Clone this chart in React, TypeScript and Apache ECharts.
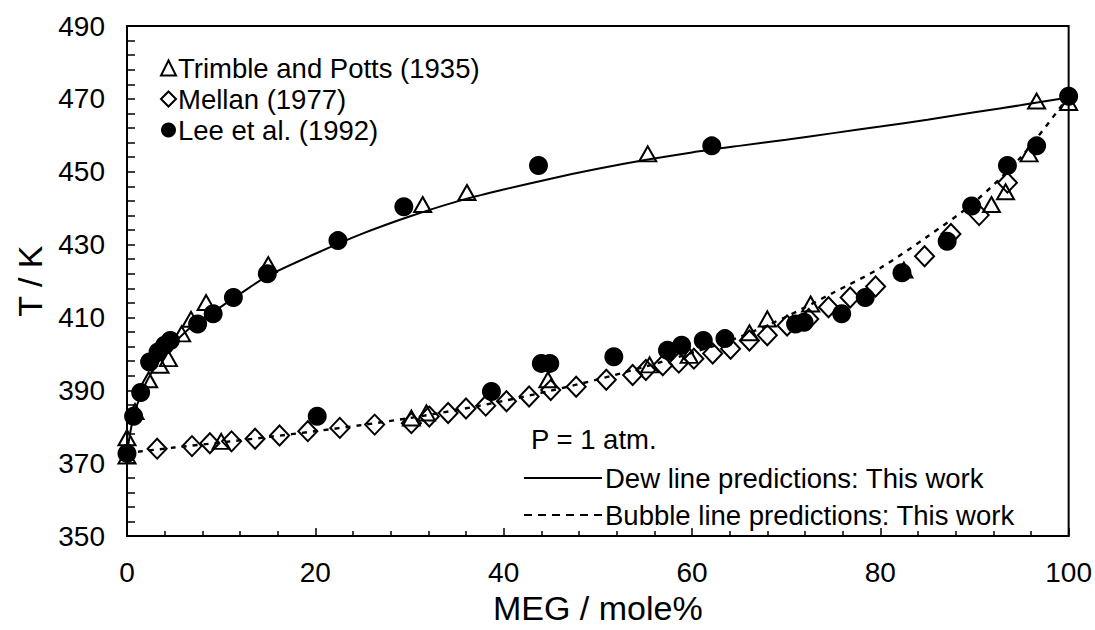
import React, { useEffect, useRef } from "react";
import * as echarts from "echarts";

// Trimble and Potts (1935)
const trimbleX = [0, 0, 0.85, 2.3, 3.5, 4.4, 5.8, 6.8, 8.4, 15, 31.4, 36.1, 55.3, 96.6, 100, 10, 30.2, 31.8, 44.7, 55.5, 59.7, 66.1, 68, 72.6, 82.5, 91.8, 93.3, 95.8];
const trimbleT = [372, 377, 384.2, 392.9, 396.9, 398.7, 405.5, 409.5, 414.1, 424.5, 441, 444.3, 454.9, 469.4, 469, 376, 382.4, 383.8, 392.9, 397, 399.6, 405.8, 409.6, 413.7, 423, 441, 444.5, 454.9];

// Mellan (1977)
const mellanX = [3.2, 6.9, 8.8, 11.1, 13.6, 16.2, 19.2, 22.6, 26.3, 30.2, 32.1, 34.1, 36, 38.1, 40.3, 42.7, 45, 47.7, 50.9, 53.7, 55.1, 56.9, 58.6, 60.2, 62.2, 64.1, 66.1, 68, 70.1, 72.4, 74.5, 76.8, 79.5, 84.7, 87.5, 90.5, 93.5];
const mellanT = [374, 374.7, 375.5, 376, 376.7, 377.6, 378.8, 379.7, 380.6, 381, 382.8, 383.8, 385, 385.8, 387, 388.3, 390.1, 391, 392.9, 394.2, 395.6, 396.9, 397.6, 398.7, 400.1, 401.4, 403.7, 405.1, 407.8, 409.6, 412.8, 415.5, 418.5, 426.8, 432.9, 438.1, 447];

// Lee et al. (1992)
const leeX = [0, 0.7, 1.45, 2.4, 3.3, 4.0, 4.6, 7.5, 9.15, 11.3, 14.9, 22.4, 29.4, 43.7, 62.1, 100, 20.2, 38.7, 44, 44.9, 51.7, 57.4, 58.9, 61.2, 63.5, 71, 71.9, 75.9, 78.4, 82.3, 87.1, 89.7, 93.5, 96.6];
const leeT = [372.7, 382.9, 389.4, 397.8, 400.5, 402.4, 403.7, 408.2, 411, 415.5, 422, 431.1, 440.4, 451.7, 457.1, 470.7, 382.9, 389.7, 397.4, 397.4, 399.2, 401, 402.4, 403.7, 404.2, 408.2, 408.7, 411, 415.5, 422.3, 430.9, 440.6, 451.7, 457.1];

// Dew line predictions
const dewX = [0, 0.5, 1, 2, 3, 4, 5, 7, 10, 13, 15, 20, 25, 30, 35, 40, 45, 50, 55, 60, 65, 70, 75, 80, 85, 90, 95, 100];
const dewT = [373, 380.5, 385.5, 392, 396.5, 400, 403, 407.8, 413, 418.2, 421.5, 427.5, 433, 437.7, 441.8, 445.1, 448.1, 450.8, 453.2, 455.3, 457.1, 458.8, 460.6, 462.4, 464.3, 466.3, 468.3, 470.4];

// Bubble line predictions
const bubX = [0, 5, 10, 15, 20, 25, 30, 35, 40, 45, 50, 55, 60, 65, 70, 75, 80, 85, 90, 95, 100];
const bubT = [372.8, 374.3, 375.7, 377.2, 378.8, 380.5, 382.4, 384.6, 387.1, 389.9, 393, 396.5, 400.3, 404.6, 410.2, 416.8, 423.6, 432.2, 441.7, 454.2, 470.7];

const xTicks = { min: 0, max: 100, interval: 20 };
const yTicks = { min: 350, max: 490, interval: 20 };

const legendMarkers = ["Trimble and Potts (1935)", "Mellan (1977)", "Lee et al. (1992)"];
const pressureNote = "P = 1 atm.";
const dewLabel = "Dew line predictions: This work";
const bubbleLabel = "Bubble line predictions: This work";

const pair = (xs: number[], ys: number[]) => xs.map((x, i) => [x, ys[i]]);

const FONT = "Liberation Sans, Arial, sans-serif";

export default function App() {
  const ref = useRef<HTMLDivElement>(null);
  useEffect(() => {
    if (!ref.current) return;
    const chart = echarts.init(ref.current, undefined, { renderer: "svg" });
    const markerStyle = { color: "rgba(255,255,255,0)", borderColor: "#000", borderWidth: 2, opacity: 1 };
    chart.setOption({
      animation: false,
      backgroundColor: "#fff",
      grid: { left: 127, right: 25, top: 26, bottom: 89, show: true, borderColor: "#000", borderWidth: 2 },
      xAxis: {
        type: "value",
        ...xTicks,
        name: "MEG / mole%",
        nameLocation: "middle",
        nameGap: 47,
        nameTextStyle: { fontSize: 34, color: "#000", fontFamily: FONT },
        axisLine: { lineStyle: { color: "#000", width: 2 } },
        axisTick: { inside: true, length: 8, lineStyle: { color: "#000", width: 1.5 } },
        minorTick: { show: true, splitNumber: 5, length: 5, lineStyle: { color: "#000", width: 1.5 } },
        axisLabel: { fontSize: 28, color: "#000", margin: 22, fontFamily: FONT },
        splitLine: { show: false },
      },
      yAxis: {
        type: "value",
        ...yTicks,
        name: "T / K",
        nameLocation: "middle",
        nameGap: 78,
        nameRotate: 90,
        nameTextStyle: { fontSize: 34, color: "#000", fontFamily: FONT },
        axisLine: { lineStyle: { color: "#000", width: 2 } },
        axisTick: { inside: true, length: 8, lineStyle: { color: "#000", width: 1.5 } },
        minorTick: { show: true, splitNumber: 5, length: 8, lineStyle: { color: "#000", width: 1.5 } },
        axisLabel: { fontSize: 28, color: "#000", margin: 22, fontFamily: FONT },
        splitLine: { show: false },
      },
      legend: {
        data: legendMarkers,
        orient: "vertical",
        left: 160,
        top: 54,
        padding: 0,
        itemGap: 3,
        itemWidth: 15,
        itemHeight: 15,
        textStyle: { fontSize: 27.5, color: "#000", fontFamily: FONT, padding: [0, 0, 0, -3] },
        selectedMode: false,
      },
      graphic: [
        {
          type: "text",
          x: 531,
          y: 439,
          style: { text: pressureNote, fontSize: 27.5, fill: "#000", fontFamily: FONT, verticalAlign: "middle" },
        },
        {
          type: "line",
          shape: { x1: 524, y1: 478, x2: 602, y2: 478 },
          style: { stroke: "#000", lineWidth: 2 },
        },
        {
          type: "text",
          x: 605,
          y: 478,
          style: { text: dewLabel, fontSize: 27.5, fill: "#000", fontFamily: FONT, verticalAlign: "middle" },
        },
        {
          type: "line",
          shape: { x1: 524, y1: 515, x2: 602, y2: 515 },
          style: { stroke: "#000", lineWidth: 2, lineDash: [8, 6] },
        },
        {
          type: "text",
          x: 605,
          y: 515,
          style: { text: bubbleLabel, fontSize: 27.5, fill: "#000", fontFamily: FONT, verticalAlign: "middle" },
        },
      ],
      series: [
        {
          name: "Dew line predictions",
          type: "line",
          data: pair(dewX, dewT),
          showSymbol: false,
          symbol: "none",
          smooth: 0.3,
          lineStyle: { color: "#000", width: 2, type: "solid" },
          z: 1,
        },
        {
          name: "Bubble line predictions",
          type: "line",
          data: pair(bubX, bubT),
          showSymbol: false,
          symbol: "none",
          smooth: 0.3,
          lineStyle: { color: "#000", width: 2.4, type: [5, 6] },
          z: 1,
        },
        {
          name: "Mellan (1977)",
          type: "scatter",
          symbol: "diamond",
          symbolSize: [19, 20],
          data: pair(mellanX, mellanT),
          itemStyle: markerStyle,
          z: 2,
        },
        {
          name: "Trimble and Potts (1935)",
          type: "scatter",
          symbol: "triangle",
          symbolSize: [17, 15],
          data: pair(trimbleX, trimbleT),
          itemStyle: markerStyle,
          z: 3,
        },
        {
          name: "Lee et al. (1992)",
          type: "scatter",
          symbol: "circle",
          symbolSize: 19,
          data: pair(leeX, leeT),
          itemStyle: { color: "#000", borderColor: "#000", borderWidth: 0, opacity: 1 },
          z: 4,
        },
      ],
    });
    return () => chart.dispose();
  }, []);
  return (
    <div
      ref={ref}
      style={{ position: "fixed", left: 0, top: 0, width: 1095, height: 630, background: "#fff" }}
    />
  );
}
